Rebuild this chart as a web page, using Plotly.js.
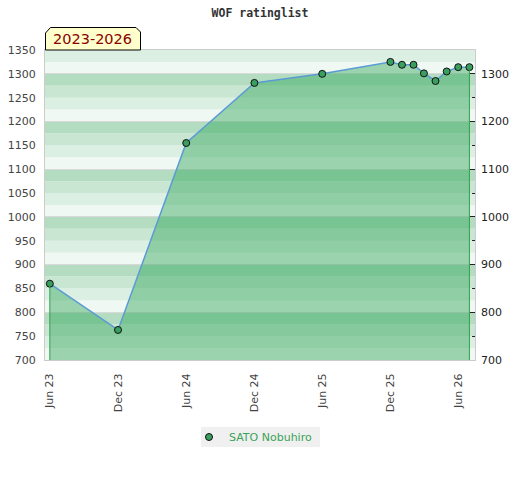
<!DOCTYPE html>
<html><head><meta charset="utf-8">
<script src="https://cdn.plot.ly/plotly-3.0.1.min.js"></script>
<style>html,body{margin:0;padding:0;background:#fff}#chart{width:520px;height:480px}</style>
</head><body><div id="chart"></div>
<script>
const chartTitle = 'WOF ratinglist';
const periodLabel = '2023-2026';
const playerName = 'SATO Nobuhiro';
const dates = ['2023-06-01','2023-12-01','2024-06-01','2024-12-01','2025-06-01','2025-12-01','2026-01-01','2026-02-01','2026-03-01','2026-04-01','2026-05-01','2026-06-01','2026-07-01'];
const ratings = [860,763,1155,1281,1300,1325,1319,1319,1301,1285,1305,1314,1314];
const xTickVals = ['2023-06-01','2023-12-01','2024-06-01','2024-12-01','2025-06-01','2025-12-01','2026-06-01'];
const xTickText = ['Jun 23','Dec 23','Jun 24','Dec 24','Jun 25','Dec 25','Jun 26'];
const yMin = 700, yMax = 1350;

const bandColors = ['#b3dcc1','#c8e6d2','#dcefe3','#eff8f2'];
const shapes = [];
for (let v = yMin; v < yMax; v += 25) {
  const top = v + 25;
  const idx = ((1400 - top) / 25) % 4;
  shapes.push({type:'rect', xref:'paper', yref:'y', x0:0, x1:1, y0:v, y1:top,
    fillcolor:bandColors[idx], line:{width:0}, layer:'below'});
}
const px = x => (x - 45) / 430, py = y => (360 - y) / 310;
// label tab
shapes.push({type:'path', xref:'paper', yref:'paper',
  path:`M ${px(45.5)},${py(50)} L ${px(45.5)},${py(33)} L ${px(50.5)},${py(27.5)} L ${px(136)},${py(27.5)} L ${px(140.5)},${py(32)} L ${px(140.5)},${py(50)} Z`,
  fillcolor:'#ffffcc', line:{color:'#000', width:1}, layer:'above'});
// legend background box
shapes.push({type:'rect', xref:'paper', yref:'paper', x0:px(201), x1:px(320), y0:py(447), y1:py(427),
  fillcolor:'#f0f0f0', line:{width:0}, layer:'below'});

const last = dates.length - 1;
const traces = [
  {x:dates, y:ratings, type:'scatter', mode:'lines', fill:'tozeroy',
   fillcolor:'rgba(51,166,91,0.45)', line:{color:'#5b9bd5', width:1.5}, showlegend:false, hoverinfo:'skip'},
  {x:[dates[0],dates[0],null,dates[last],dates[last]], y:[yMin,ratings[0],null,yMin,ratings[last]],
   yaxis:'y2', type:'scatter', mode:'lines', line:{color:'#2fa050', width:1}, showlegend:false, hoverinfo:'skip'},
  {x:dates, y:ratings, type:'scatter', mode:'markers', name:playerName,
   marker:{size:7, color:'#3a9e5e', line:{color:'#111', width:1}}}
];

const layout = {
  width:520, height:480,
  margin:{l:45, r:45, t:50, b:120},
  paper_bgcolor:'#fff', plot_bgcolor:'#fff',
  font:{family:'DejaVu Sans', size:11, color:'#444'},
  title:{text:chartTitle, x:0.5, xanchor:'center', y:1-13/480, yanchor:'middle', yref:'container',
    font:{family:'DejaVu Sans Mono', size:11.5, weight:'bold', color:'#333'}},
  xaxis:{type:'date', range:['2023-05-19','2026-07-16'], tickvals:xTickVals, ticktext:xTickText,
    tickangle:-90, showgrid:false, zeroline:false, showline:true, linecolor:'#cccccc', mirror:true,
    ticks:'', ticklabelstandoff:8, tickfont:{size:11, color:'#444'}},
  yaxis:{range:[yMin,yMax], dtick:50, showgrid:false, zeroline:false, showline:true, linecolor:'#cccccc', mirror:true,
    ticks:'', ticklabelstandoff:6, tickfont:{size:11, color:'#444'}},
  yaxis2:{range:[yMin,yMax], overlaying:'y', side:'right', dtick:100, showgrid:true, gridcolor:'#d9d9d9',
    zeroline:false, ticks:'inside', ticklen:5, tickcolor:'#222', ticklabelstandoff:5,
    minor:{dtick:50, ticks:'inside', ticklen:3, tickcolor:'#222', showgrid:false},
    tickfont:{size:11, color:'#222'}},
  shapes:shapes,
  annotations:[{xref:'paper', yref:'paper', x:px(92.5), y:py(39), xanchor:'center', yanchor:'middle',
    text:periodLabel, showarrow:false, font:{family:'DejaVu Sans', size:14.5, color:'#8b0000'}}],
  legend:{orientation:'h', x:px(189), xanchor:'left', y:py(437), yanchor:'middle', bgcolor:'rgba(0,0,0,0)',
    itemwidth:30, font:{size:11, color:'#3aa35a'}, itemclick:false},
  showlegend:true
};
Plotly.newPlot('chart', traces, layout, {displayModeBar:false, staticPlot:true});
</script></body></html>
